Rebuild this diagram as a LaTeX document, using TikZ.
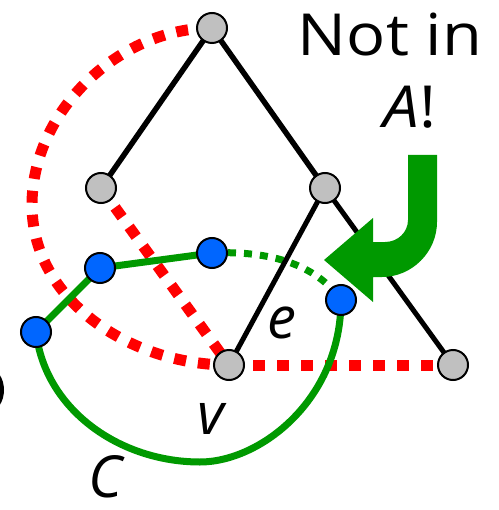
\documentclass[tikz,border=0pt]{standalone}
\usepackage{fontspec}
\setmainfont{Open Sans}
\usetikzlibrary{backgrounds}
\definecolor{gnode}{RGB}{192,192,192}
\definecolor{bnode}{RGB}{0,102,255}
\definecolor{grn}{RGB}{0,153,0}
\definecolor{rd}{RGB}{255,0,0}
\tikzset{
 graynode/.style={circle,fill=gnode,draw=black,line width=2pt,minimum size=30pt,inner sep=0pt},
 bluenode/.style={circle,fill=bnode,draw=black,line width=2pt,minimum size=30pt,inner sep=0pt},
 treeedge/.style={line width=5.5pt},
 thinedge/.style={line width=5pt},
 reddash/.style={rd,line width=11pt,dash pattern=on 12pt off 12pt},
 greensolid/.style={grn,line width=7pt},
 greendot/.style={grn,line width=7pt,dash pattern=on 8pt off 8pt},
 lbl/.style={font=\fontsize{58}{60}\selectfont,inner sep=0pt},
}
\begin{document}
\begin{tikzpicture}[x=1pt,y=-1pt]
\useasboundingbox (0,0) rectangle (498,510);
\clip (0,0) rectangle (498,510);
% nodes
\node[graynode] (r) at (212,28) {};
\node[graynode] (l) at (101,188) {};
\node[graynode] (rc) at (325,188) {};
\node[graynode] (v) at (229,365) {};
\node[graynode] (w) at (453,365) {};
\node[bluenode] (b1) at (36,332) {};
\node[bluenode] (b2) at (100,268) {};
\node[bluenode] (b3) at (212,253) {};
\node[bluenode] (b4) at (341,300) {};
\begin{scope}[on background layer]
 \draw[reddash] (r.center) .. controls (120,28) and (32,110) .. (32,205) .. controls (32,300) and (130,365) .. (v.center);
 \draw[reddash] (l.center) -- (v.center);
 \draw[reddash] (v.center) -- (w.center);
 \draw[greensolid] (b1.center) -- (b2.center) -- (b3.center);
 \draw[greendot] (b3.center) .. controls (280,250) and (320,270) .. (b4.center);
 \draw[greensolid] (b4.center) .. controls (341,400) and (260,462) .. (200,462) .. controls (120,462) and (45,410) .. (b1.center);
 \draw[treeedge] (r.center) -- (l.center);
 \draw[treeedge] (r.center) -- (rc.center);
 \draw[thinedge] (rc.center) -- (v.center);
 \draw[thinedge] (rc.center) -- (w.center);
\end{scope}
% big green arrow
\fill[grn] (408,155) -- (437,155) -- (437,222) .. controls (437,252) and (412,277) .. (382,277) -- (373,277) -- (373,302) -- (324,260) -- (373,218) -- (373,242) -- (385,242) .. controls (398,242) and (408,232) .. (408,220) -- cycle;
% labels
\node[lbl,xscale=1.12] (t1) at (390,35) {Not in};
\node[lbl,xscale=1.1] (t2) at (410,107) {\itshape A\upshape!};
\node[lbl] (le) at (282,323) {\itshape e};
\node[lbl] (lv) at (211,419) {\itshape v};
\node[lbl] (lc) at (106,477) {\itshape C};
% cut-off glyph at left edge
\draw[line width=4pt] (-12,390) ellipse [x radius=14, y radius=20];
\end{tikzpicture}
\end{document}
